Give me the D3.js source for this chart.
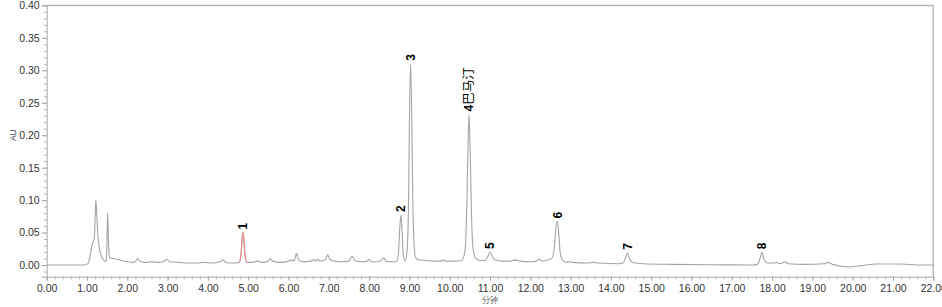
<!DOCTYPE html>
<html><head><meta charset="utf-8">
<script src="https://cdn.jsdelivr.net/npm/d3@7"></script>
<style>
html,body{margin:0;padding:0;background:#fff;}
svg{display:block;}
</style></head>
<body>
<svg id="c" width="942" height="307"></svg>
<script>
// Chromatogram trace: retention time (min) and absorbance (AU)
const times = [0.00,0.95,1.02,1.08,1.12,1.15,1.18,1.20,1.22,1.24,1.27,1.31,1.36,1.42,1.47,1.49,1.51,1.53,1.55,1.58,1.65,1.75,1.85,2.00,2.15,2.22,2.26,2.31,2.45,2.60,2.75,2.90,2.98,3.05,3.30,3.50,3.70,3.90,4.10,4.30,4.37,4.45,4.60,4.78,4.82,4.85,4.87,4.89,4.92,4.96,5.10,5.25,5.35,5.50,5.55,5.60,5.80,6.00,6.08,6.14,6.20,6.25,6.35,6.55,6.62,6.68,6.72,6.78,6.92,6.97,7.03,7.15,7.30,7.50,7.58,7.64,7.80,7.95,8.00,8.05,8.20,8.32,8.37,8.42,8.55,8.68,8.73,8.76,8.79,8.82,8.85,8.89,8.94,8.98,9.00,9.03,9.06,9.08,9.11,9.15,9.22,9.40,9.60,9.80,9.84,9.88,10.10,10.30,10.38,10.42,10.45,10.48,10.51,10.54,10.58,10.65,10.75,10.88,10.95,11.00,11.05,11.12,11.30,11.50,11.62,11.75,12.00,12.15,12.22,12.30,12.45,12.55,12.60,12.64,12.67,12.70,12.74,12.80,12.90,13.00,13.05,13.40,13.60,13.68,14.20,14.30,14.36,14.41,14.46,14.54,14.80,15.50,16.50,17.50,17.64,17.70,17.75,17.80,17.88,18.05,18.10,18.20,18.32,18.40,18.80,19.30,19.39,19.50,19.90,20.20,20.60,21.20,21.60,22.00];
const au = [0.000,0.000,0.002,0.015,0.030,0.036,0.040,0.070,0.100,0.080,0.045,0.025,0.013,0.007,0.005,0.020,0.080,0.045,0.015,0.011,0.010,0.009,0.007,0.005,0.004,0.007,0.010,0.006,0.004,0.005,0.004,0.005,0.009,0.005,0.004,0.003,0.003,0.004,0.003,0.005,0.008,0.004,0.003,0.004,0.015,0.040,0.050,0.040,0.015,0.004,0.004,0.006,0.004,0.006,0.010,0.006,0.004,0.006,0.008,0.006,0.018,0.008,0.005,0.006,0.008,0.006,0.009,0.006,0.008,0.016,0.008,0.006,0.005,0.006,0.014,0.007,0.005,0.006,0.009,0.005,0.005,0.008,0.011,0.006,0.005,0.005,0.020,0.055,0.077,0.050,0.015,0.006,0.020,0.100,0.220,0.310,0.220,0.120,0.040,0.012,0.008,0.007,0.006,0.006,0.008,0.006,0.006,0.007,0.022,0.080,0.170,0.232,0.170,0.080,0.025,0.010,0.007,0.007,0.014,0.020,0.014,0.008,0.006,0.006,0.008,0.006,0.005,0.006,0.009,0.006,0.008,0.012,0.030,0.060,0.067,0.055,0.020,0.007,0.004,0.005,0.004,0.003,0.004,0.003,0.002,0.003,0.010,0.019,0.010,0.004,0.002,0.001,0.0005,0.000,0.001,0.010,0.0195,0.008,0.003,0.003,0.004,0.002,0.005,0.002,0.001,0.002,0.004,0.001,-0.003,-0.001,0.0015,0.0015,0.000,0.000];

// Highlighted (red) peak window
const redStart = 4.78, redEnd = 4.96;

// Peak labels
const labelTimes = [4.87, 8.79, 9.03, 10.48, 11.00, 12.67, 14.41, 17.75];
const labelAU    = [0.050, 0.077, 0.310, 0.232, 0.020, 0.067, 0.019, 0.0195];
const labelText  = ["1", "2", "3", "4巴马汀", "5", "6", "7", "8"];

// Axis ticks
const xMajor = d3.range(0, 22.001, 1);
const xMinor = d3.range(0, 22.001, 0.2);
const yMajor = [0,0.05,0.10,0.15,0.20,0.25,0.30,0.35,0.40];
const yMinor = d3.range(-0.01, 0.4001, 0.01);

const svg = d3.select("#c");
const x = d3.scaleLinear().domain([0, 22]).range([46.7, 933.3]);
const y = d3.scaleLinear().domain([-0.018, 0.40]).range([276.7, 5.4]);
const axisCol = "#a8a8a8";
const font = "Arial, 'Liberation Sans', sans-serif";

// frame lines (top, right)
svg.append("line").attr("x1", x(0)).attr("x2", x(22)).attr("y1", y(0.40)).attr("y2", y(0.40))
  .attr("stroke", "#b8b8b8").attr("stroke-width", 1.5);
svg.append("line").attr("x1", x(22)).attr("x2", x(22)).attr("y1", y(0.40)).attr("y2", y(-0.018))
  .attr("stroke", "#b8b8b8").attr("stroke-width", 1.5);

// X axis
const gx = svg.append("g").attr("transform", `translate(0,${y(-0.018)})`);
gx.call(d3.axisBottom(x).tickValues(xMinor).tickSize(2.5).tickFormat(""));
gx.call(g => g.select(".domain").remove());
const gx2 = svg.append("g").attr("transform", `translate(0,${y(-0.018)})`);
gx2.call(d3.axisBottom(x).tickValues(xMajor).tickSize(4).tickPadding(4).tickFormat(d3.format(".2f")));
[gx, gx2].forEach(g => {
  g.selectAll("line").attr("stroke", axisCol);
  g.selectAll(".domain").attr("stroke", axisCol);
  g.selectAll("text").attr("font-family", font).attr("font-size", 10.5).attr("fill", "#333");
});

// Y axis
const gy = svg.append("g").attr("transform", `translate(${x(0)},0)`);
gy.call(d3.axisLeft(y).tickValues(yMinor).tickSize(2.5).tickFormat(""));
gy.call(g => g.select(".domain").remove());
const gy2 = svg.append("g").attr("transform", `translate(${x(0)},0)`);
gy2.call(d3.axisLeft(y).tickValues(yMajor).tickSize(5).tickPadding(2).tickFormat(d3.format(".2f")));
[gy, gy2].forEach(g => {
  g.selectAll("line").attr("stroke", axisCol);
  g.selectAll(".domain").attr("stroke", axisCol);
  g.selectAll("text").attr("font-family", font).attr("font-size", 10.5).attr("fill", "#333");
});

// axis titles
svg.append("text").attr("transform", `translate(16,${y(0.2)}) rotate(-90)`)
  .attr("text-anchor", "middle").attr("font-family", font).attr("font-size", 8.5).attr("fill", "#444").text("AU");
svg.append("text").attr("x", 490).attr("y", 303)
  .attr("text-anchor", "middle").attr("font-family", "'Noto Sans CJK SC', sans-serif").attr("font-size", 8).attr("fill", "#666").text("分钟");

// trace
const pts = times.map((t, i) => [t, au[i]]);
const line = d3.line().x(d => x(d[0])).y(d => y(d[1])).curve(d3.curveMonotoneX);
svg.append("path").attr("d", line(pts)).attr("fill", "none").attr("stroke", "#a4a4a4").attr("stroke-width", 1.1);
const redPts = pts.filter(d => d[0] >= redStart && d[0] <= redEnd);
svg.append("path").attr("d", line(redPts)).attr("fill", "none").attr("stroke", "#f08a8a").attr("stroke-width", 1.1);

// peak labels
labelTimes.forEach((t, i) => {
  const tx = svg.append("text")
    .attr("transform", `translate(${x(t)},${y(labelAU[i]) - 3}) rotate(-90)`)
    .attr("dy", "0.36em")
    .attr("font-family", font).attr("font-weight", "bold").attr("font-size", 12).attr("fill", "#000");
  const s = labelText[i];
  tx.append("tspan").text(s[0]);
  if (s.length > 1) {
    tx.append("tspan").attr("font-family", "'Noto Sans CJK SC', sans-serif").attr("font-weight", "normal")
      .attr("font-size", 12.5).text(s.slice(1));
  }
});
</script>
</body></html>
